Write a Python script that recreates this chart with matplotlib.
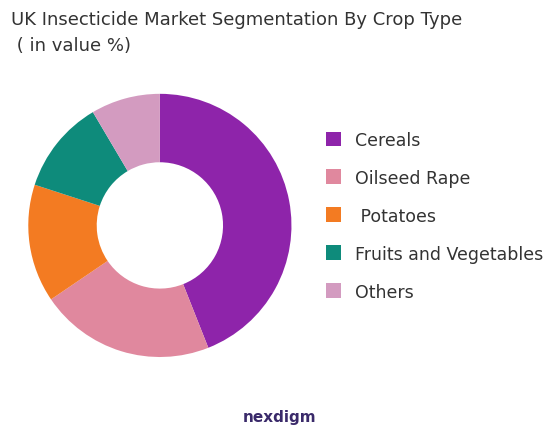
import matplotlib
matplotlib.use("Agg")
import matplotlib.pyplot as plt
from matplotlib.patches import Patch

categories = ["Cereals", "Oilseed Rape", " Potatoes", "Fruits and Vegetables", "Others"]
values = [44, 21.5, 14.5, 11.5, 8.5]
colors = ["#8E24AA", "#E0889E", "#F37B22", "#0E8B7B", "#D39BC0"]

fig = plt.figure(figsize=(5.59, 4.35), dpi=100)
ax = fig.add_axes([0.05, 0.177, 0.472, 0.605])
ax.pie(values, colors=colors, startangle=90, counterclock=False,
       wedgeprops=dict(width=0.52, edgecolor="none"))
ax.set_xlim(-1, 1)
ax.set_ylim(-1, 1)
ax.set_aspect("equal")

fig.text(0.02, 0.955, "UK Insecticide Market Segmentation By Crop Type", fontsize=13, color="#333333", va="center")
fig.text(0.02, 0.895, " ( in value %)", fontsize=13, color="#333333", va="center")

handles = [Patch(facecolor=c) for c in colors]
fig.legend(handles, categories, loc="center left", bbox_to_anchor=(0.555, 0.502),
           frameon=False, fontsize=12.5, labelspacing=1.15, handlelength=0.9, handleheight=0.9,
           labelcolor="#333333")

fig.text(0.5, 0.04, "nexdigm", fontsize=11, color="#3a2a6a", ha="center", va="center", fontweight="bold")
fig.savefig("out.png", dpi=100)
